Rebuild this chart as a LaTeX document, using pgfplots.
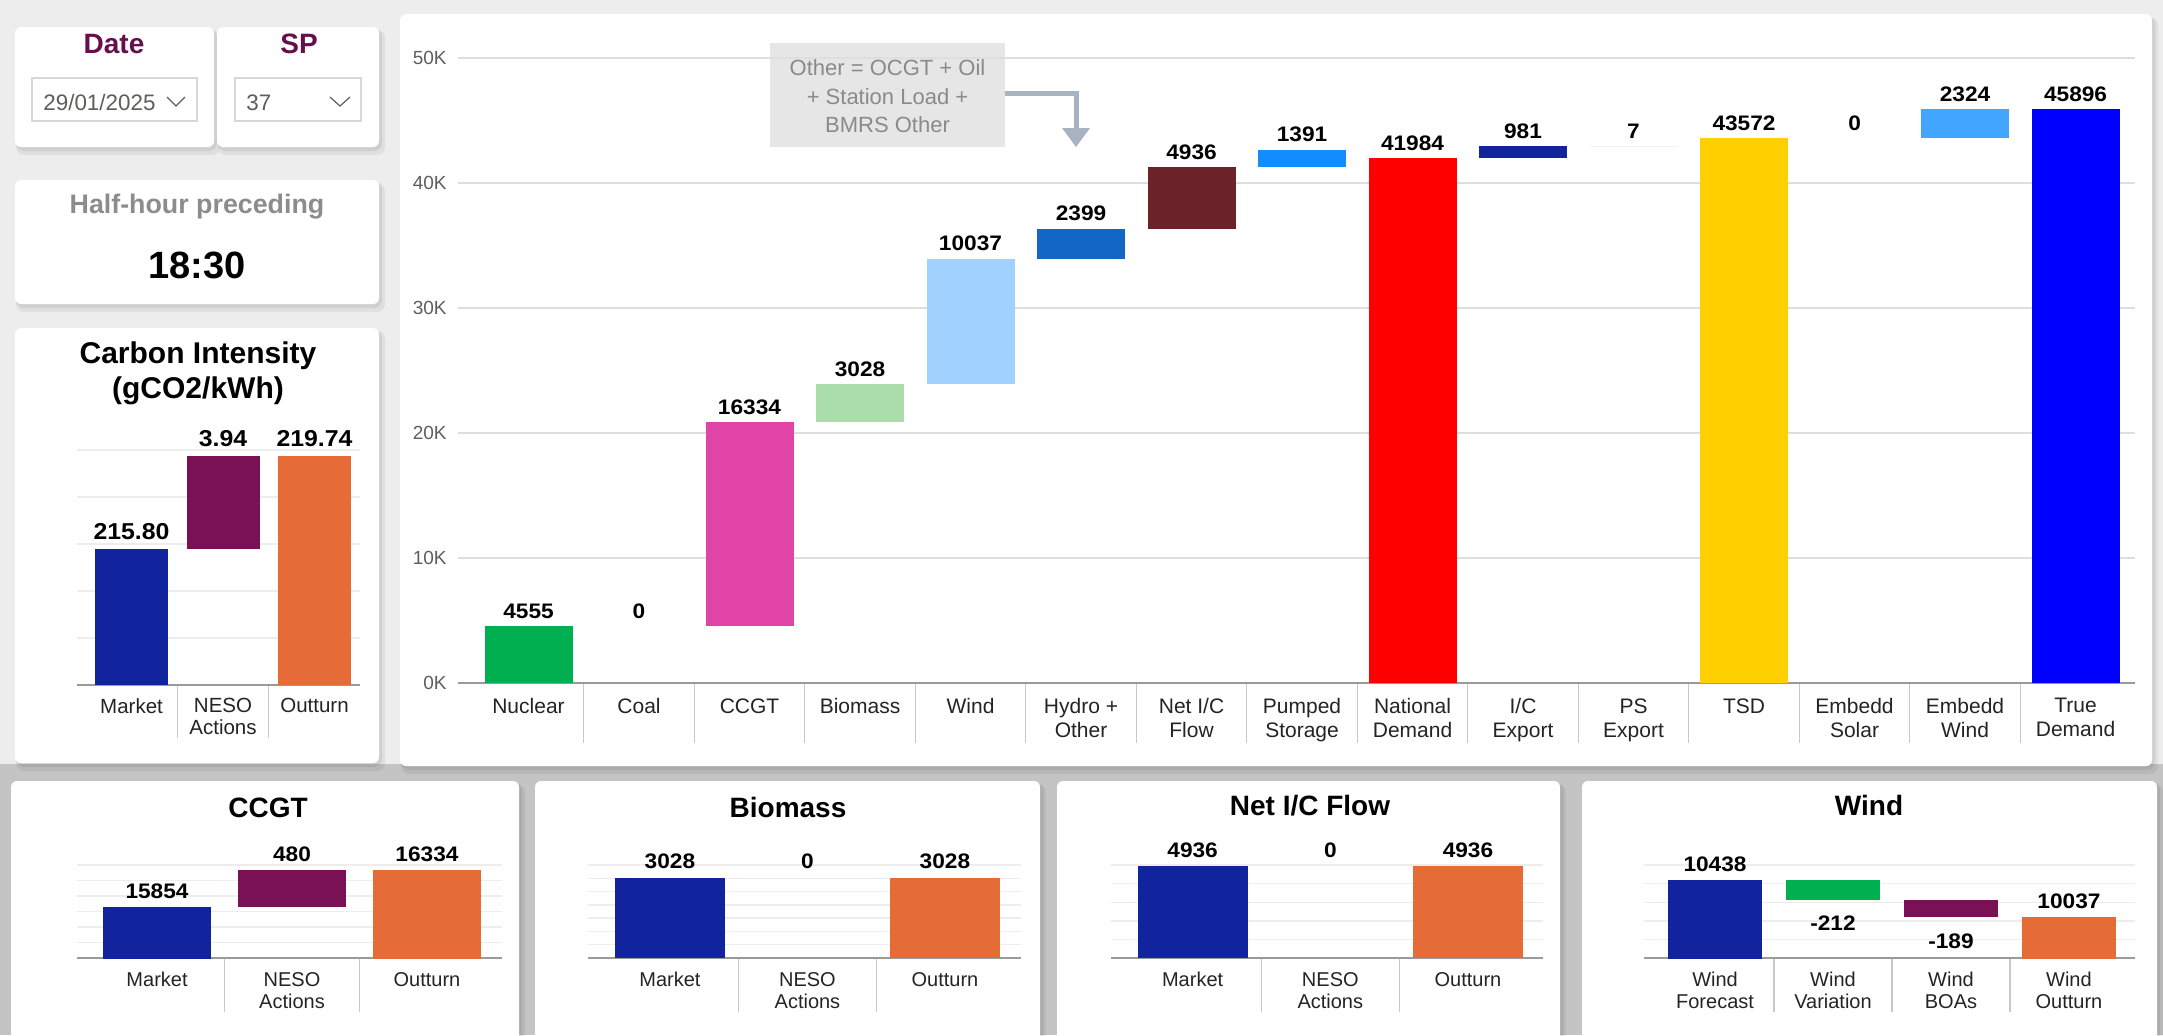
\documentclass[border=0pt]{standalone}
\usepackage{pgfplots}
\pgfplotsset{compat=1.18}
\usepackage{pgfplotstable}
\usepackage{fontspec}
\setmainfont{Liberation Sans}
\newfontfamily\vf{Liberation Sans}[FakeStretch=1.08]

\definecolor{bgtop}{HTML}{EDEDED}
\definecolor{bgbot}{HTML}{C4C4C4}
\definecolor{gridc}{HTML}{DEDEDE}
\definecolor{gridl}{HTML}{EDEDED}
\definecolor{axisc}{HTML}{9A9A9A}
\definecolor{sepc}{HTML}{C8C8C8}
\definecolor{txt}{HTML}{252423}
\definecolor{tickc}{HTML}{605E5C}
\definecolor{datec}{HTML}{650F4C}
\definecolor{halfc}{HTML}{8C8C8C}
\definecolor{notec}{HTML}{8A8A8A}
\definecolor{notebg}{HTML}{E6E6E6}
\definecolor{arrowc}{HTML}{A8B3C1}
\definecolor{boxc}{HTML}{D8D8D8}
% main waterfall colours
\definecolor{mc0}{HTML}{00B050}
\definecolor{mc1}{HTML}{444444}
\definecolor{mc2}{HTML}{E044A7}
\definecolor{mc3}{HTML}{ABDDAB}
\definecolor{mc4}{HTML}{A0D1FF}
\definecolor{mc5}{HTML}{1367C4}
\definecolor{mc6}{HTML}{6B2229}
\definecolor{mc7}{HTML}{118DFF}
\definecolor{mc8}{HTML}{FF0000}
\definecolor{mc9}{HTML}{12239E}
\definecolor{mc10}{HTML}{EEF0F8}
\definecolor{mc11}{HTML}{FFD000}
\definecolor{mc12}{HTML}{CCCCCC}
\definecolor{mc13}{HTML}{42A5FF}
\definecolor{mc14}{HTML}{0000FF}
% small waterfall colours
\definecolor{wc0}{HTML}{12239E}
\definecolor{wc1}{HTML}{7A1154}
\definecolor{wc2}{HTML}{E66C37}
\definecolor{wc3}{HTML}{00B050}

\pgfplotstableread{
idx base val c lbl
0 0 4555 0 4555
1 4555 0 1 0
2 4555 16334 2 16334
3 20889 3028 3 3028
4 23917 10037 4 10037
5 33954 2399 5 2399
6 36353 4936 6 4936
7 41289 1391 7 1391
8 0 41984 8 41984
9 41984 981 9 981
10 42965 7 10 7
11 0 43572 11 43572
12 43572 0 12 0
13 43572 2324 13 2324
14 0 45896 14 45896
}\maintab

\pgfplotstableread{
idx base val c lbl
0 0 215.80 0 215.80
1 215.80 3.94 1 3.94
2 0 219.74 2 219.74
}\carbtab

\pgfplotstableread{
idx base val c lbl
0 0 15854 0 15854
1 15854 480 1 480
2 0 16334 2 16334
}\ccgttab

\pgfplotstableread{
idx base val c lbl
0 0 3028 0 3028
1 3028 0 1 0
2 0 3028 2 3028
}\biotab

\pgfplotstableread{
idx base val c lbl
0 0 4936 0 4936
1 4936 0 1 0
2 0 4936 2 4936
}\nettab

\pgfplotstableread{
idx base val c lblp lbln
0 0 10438 0 10438 {}
1 10438 -212 3 {} -212
2 10226 -189 1 {} -189
3 0 10037 2 10037 {}
}\windtab

\newcommand\panel[4]{%
  \fill[black,opacity=0.06,rounded corners=4pt] (#1+1,#2+3) rectangle (#3+6,#4+8);
  \fill[black,opacity=0.07,rounded corners=4pt] (#1+1,#2+2) rectangle (#3+3,#4+4);
  \fill[white,rounded corners=3pt] (#1,#2) rectangle (#3,#4);}
\newcommand\wfbase[1]{\addplot[draw=none,fill=none] table[x=idx,y=base]{#1};}
\newcommand\wfplot[2]{\addplot[draw=none,fill=wc#2] table[x=idx,y expr={\thisrow{c}==#2 ? \thisrow{val} : 0}]{#1};}
\newcommand\lab[4]{\addplot[draw=none,fill=none,stacked ignores zero=false,nodes near coords={\pgfplotspointmeta},point meta=explicit symbolic,
   every node near coord/.append style={anchor=#3,yshift=#4}] table[x=idx,y expr=0,meta=#2]{#1};}

\pgfplotsset{
  wf/.style={ybar stacked, stack negative=on previous, scale only axis, anchor=south west, clip mode=individual, enlargelimits=false,
    scaled y ticks=false,
    axis line style={draw=none}, tick style={draw=none}, major tick length=0pt,
    ymajorgrids,
    xticklabel style={align=center, inner sep=0pt, text=txt},
    every node near coord/.append style={inner sep=0pt, text=black},
  },
  small/.style={wf, yticklabels={}, major grid style={gridl, line width=0.7pt},
    xticklabel style={font=\fontsize{10}{11}\selectfont, yshift=-7pt},
    every node near coord/.append style={font=\vf\bfseries\fontsize{10.5}{12}\selectfont},
  },
}

\begin{document}
\begin{tikzpicture}
\useasboundingbox (0,0) rectangle (1081.5pt,-517.5pt);
\begin{scope}[x=0.5pt,y=-0.5pt]
\fill[bgtop] (0,0) rectangle (2163,1035);
\fill[bgbot] (0,764) rectangle (2163,1035);
\panel{15}{27}{214}{147}
\panel{217}{27}{379}{147}
\panel{15}{180}{379}{304}
\panel{15}{328}{379}{763}
\panel{400}{14}{2152}{766}
\panel{11}{781}{519}{1045}
\panel{535}{781}{1040}{1045}
\panel{1057}{781}{1560}{1045}
\panel{1582}{781}{2157}{1045}
% slicers
\node[anchor=base,font=\fontsize{14}{16}\selectfont\bfseries,text=datec] at (114,53) {Date};
\node[anchor=base,font=\fontsize{14}{16}\selectfont\bfseries,text=datec] at (299,53) {SP};
\draw[boxc,line width=0.6pt] (32,78) rectangle (197,121);
\draw[boxc,line width=0.6pt] (235,78) rectangle (361,121);
\node[anchor=base west,inner sep=0pt,font=\fontsize{11.2}{13}\selectfont,text=tickc] at (43,110) {29/01/2025};
\node[anchor=base west,inner sep=0pt,font=\fontsize{11.2}{13}\selectfont,text=tickc] at (246,110) {37};
\draw[tickc,line width=0.6pt] (167,97) -- (176,106) -- (185,97);
\draw[tickc,line width=0.6pt] (330,97) -- (340,106) -- (350,97);
\node[anchor=base,font=\fontsize{13.4}{15}\selectfont\bfseries,text=halfc] at (197,213) {Half-hour preceding};
\node[anchor=base,font=\fontsize{19}{21}\selectfont\bfseries] at (197,278) {18:30};
% titles
\node[anchor=base,font=\fontsize{15}{17}\selectfont\bfseries] at (198,363) {Carbon Intensity};
\node[anchor=base,font=\fontsize{15}{17}\selectfont\bfseries] at (198,398) {(gCO2/kWh)};
\node[anchor=base,font=\fontsize{14}{16}\selectfont\bfseries] at (268,817) {CCGT};
\node[anchor=base,font=\fontsize{14}{16}\selectfont\bfseries] at (788,817) {Biomass};
\node[anchor=base,font=\fontsize{14}{16}\selectfont\bfseries] at (1310,815) {Net I/C Flow};
\node[anchor=base,font=\fontsize{14}{16}\selectfont\bfseries] at (1869,815) {Wind};
% annotation
\fill[notebg] (770,43) rectangle (1005,147);
\node[anchor=base,font=\fontsize{11}{13}\selectfont,text=notec] at (887.5,75) {Other = OCGT + Oil};
\node[anchor=base,font=\fontsize{11}{13}\selectfont,text=notec] at (887.5,104) {+ Station Load +};
\node[anchor=base,font=\fontsize{11}{13}\selectfont,text=notec] at (887.5,132) {BMRS Other};
\draw[arrowc,line width=2.5pt] (1005,93) -- (1076,93) -- (1076,130);
\fill[arrowc] (1062,128) -- (1090,128) -- (1076,147) -- cycle;
\end{scope}

% ---------------- main waterfall ----------------
\begin{axis}[wf, at={(229pt,-341.5pt)}, width=838.5pt, height=312.5pt,
  xmin=-0.638, xmax=14.538, ymin=0, ymax=50000, bar width=44pt,
  ytick={0,10000,20000,30000,40000,50000}, yticklabels={0K,10K,20K,30K,40K,50K},
  yticklabel style={font=\fontsize{9.5}{10}\selectfont, text=tickc, inner sep=0pt, xshift=-5.5pt},
  xtick={0,...,14},
  xticklabels={Nuclear,Coal,CCGT,Biomass,Wind,{Hydro +\\Other},{Net I/C\\Flow},{Pumped\\Storage},{National\\Demand},{I/C\\Export},{PS\\Export},TSD,{Embedd\\Solar},{Embedd\\Wind},{True\\Demand}},
  xticklabel style={font=\fontsize{10.5}{12}\selectfont, yshift=-7.5pt},
  major grid style={gridc, line width=0.9pt},
  every node near coord/.append style={font=\vf\bfseries\fontsize{10.5}{12}\selectfont},
]
\wfbase{\maintab}
\pgfplotsinvokeforeach{0,...,14}{\addplot[draw=none,fill=mc#1] table[x=idx,y expr={\thisrow{c}==#1 ? \thisrow{val} : 0}]{\maintab};}
\lab{\maintab}{lbl}{south}{3.5pt}
\draw[axisc,line width=1pt] (rel axis cs:0,0) -- (rel axis cs:1,0);
\pgfplotsinvokeforeach{0.5,1.5,...,13.5}{\draw[sepc,line width=0.6pt] (axis cs:#1,0) -- ++(0pt,-30pt);}
\end{axis}

% ---------------- carbon intensity ----------------
\begin{axis}[wf, at={(38.5pt,-342.5pt)}, width=141.5pt, height=129.25pt,
  xmin=-0.596, xmax=2.497, ymin=210, ymax=221, bar width=36.5pt,
  ytick={210,212,...,220}, yticklabels={},
  major grid style={gridl, line width=0.7pt},
  xtick={0,1,2}, xticklabels={Market,{NESO\\Actions},Outturn},
  xticklabel style={font=\fontsize{10.25}{11}\selectfont, yshift=-6.5pt},
  every node near coord/.append style={font=\vf\bfseries\fontsize{11.5}{13}\selectfont},
]
\wfbase{\carbtab}
\wfplot{\carbtab}{0}\wfplot{\carbtab}{1}\wfplot{\carbtab}{2}
\lab{\carbtab}{lbl}{south}{4.5pt}
\draw[axisc,line width=1pt] (rel axis cs:0,0) -- (rel axis cs:1,0);
\pgfplotsinvokeforeach{0.5,1.5}{\draw[sepc,line width=0.6pt] (axis cs:#1,210) -- ++(0pt,-26.5pt);}
\end{axis}

% ---------------- CCGT ----------------
\begin{axis}[small, at={(38.5pt,-479pt)}, width=212.5pt, height=58.125pt,
  xmin=-0.593, xmax=2.556, ymin=15200, ymax=16700, bar width=54.25pt,
  ytick={15200,15400,...,16400},
  xtick={0,1,2}, xticklabels={Market,{NESO\\Actions},Outturn},
]
\wfbase{\ccgttab}
\wfplot{\ccgttab}{0}\wfplot{\ccgttab}{1}\wfplot{\ccgttab}{2}
\lab{\ccgttab}{lbl}{south}{4pt}
\draw[axisc,line width=1pt] (rel axis cs:0,0) -- (rel axis cs:1,0);
\pgfplotsinvokeforeach{0.5,1.5}{\draw[sepc,line width=0.6pt] (axis cs:#1,15200) -- ++(0pt,-27pt);}
\end{axis}

% ---------------- Biomass ----------------
\begin{axis}[small, at={(294pt,-479pt)}, width=216.5pt, height=53.14pt,
  xmin=-0.596, xmax=2.553, ymin=0, ymax=4000, bar width=55pt,
  ytick={0,500,...,3500},
  xtick={0,1,2}, xticklabels={Market,{NESO\\Actions},Outturn},
]
\wfbase{\biotab}
\wfplot{\biotab}{0}\wfplot{\biotab}{1}\wfplot{\biotab}{2}
\lab{\biotab}{lbl}{south}{4pt}
\draw[axisc,line width=1pt] (rel axis cs:0,0) -- (rel axis cs:1,0);
\pgfplotsinvokeforeach{0.5,1.5}{\draw[sepc,line width=0.6pt] (axis cs:#1,0) -- ++(0pt,-27pt);}
\end{axis}

% ---------------- Net I/C Flow ----------------
\begin{axis}[small, at={(555.35pt,-479pt)}, width=216.3pt, height=60.45pt,
  xmin=-0.595, xmax=2.547, ymin=0, ymax=6500, bar width=55pt,
  ytick={0,1000,...,5000},
  xtick={0,1,2}, xticklabels={Market,{NESO\\Actions},Outturn},
]
\wfbase{\nettab}
\wfplot{\nettab}{0}\wfplot{\nettab}{1}\wfplot{\nettab}{2}
\lab{\nettab}{lbl}{south}{4pt}
\draw[axisc,line width=1pt] (rel axis cs:0,0) -- (rel axis cs:1,0);
\pgfplotsinvokeforeach{0.5,1.5}{\draw[sepc,line width=0.6pt] (axis cs:#1,0) -- ++(0pt,-27pt);}
\end{axis}

% ---------------- Wind ----------------
\begin{axis}[small, at={(822pt,-479pt)}, width=245.5pt, height=55.8pt,
  xmin=-0.602, xmax=3.56, ymin=9600, ymax=10800, bar width=47pt,
  ytick={9600,9800,...,10600},
  xtick={0,1,2,3}, xticklabels={{Wind\\Forecast},{Wind\\Variation},{Wind\\BOAs},{Wind\\Outturn}},
]
\wfbase{\windtab}
\wfplot{\windtab}{0}\wfplot{\windtab}{3}\wfplot{\windtab}{1}\wfplot{\windtab}{2}
\lab{\windtab}{lblp}{south}{4pt}
\lab{\windtab}{lbln}{north}{-8pt}
\draw[axisc,line width=1pt] (rel axis cs:0,0) -- (rel axis cs:1,0);
\pgfplotsinvokeforeach{0.5,1.5,2.5}{\draw[sepc,line width=0.6pt] (axis cs:#1,9600) -- ++(0pt,-27pt);}
\end{axis}
\end{tikzpicture}
\end{document}
